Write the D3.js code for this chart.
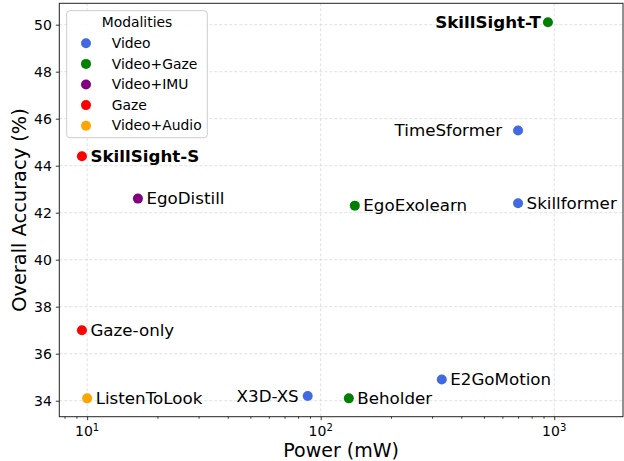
<!DOCTYPE html>
<html>
<head>
<meta charset="utf-8">
<script src="https://cdn.jsdelivr.net/npm/d3@7"></script>
<style>
  body { margin: 0; background: #fff; }
  svg { display: block; font-family: "DejaVu Sans", sans-serif; }
</style>
</head>
<body>
<div id="chart"></div>
<script>
// Data
var models = ["SkillSight-T", "TimeSformer", "SkillSight-S", "EgoDistill", "EgoExolearn",
  "Skillformer", "Gaze-only", "ListenToLook", "X3D-XS", "Beholder", "E2GoMotion"];
var power = [940, 700, 9.5, 16.5, 140, 700, 9.5, 10, 88, 132, 330];
var accuracy = [50.1, 45.5, 44.4, 42.6, 42.3, 42.4, 37.0, 34.1, 34.2, 34.1, 34.9];
var modality = ["Video+Gaze", "Video", "Gaze", "Video+IMU", "Video+Gaze",
  "Video", "Gaze", "Video+Audio", "Video", "Video+Gaze", "Video"];

var modalities = ["Video", "Video+Gaze", "Video+IMU", "Gaze", "Video+Audio"];
var modalityColors = ["#4169e1", "#008000", "#800080", "#ff0000", "#ffa500"];

var yTicks = [34, 36, 38, 40, 42, 44, 46, 48, 50];
var xTicks = [10, 100, 1000];
var xMinorTicks = [8, 9, 20, 30, 40, 50, 60, 70, 80, 90, 200, 300, 400, 500, 600, 700, 800, 900];

// labels drawn on the left of their point, and the bold ones
var leftLabels = {"SkillSight-T": 7, "TimeSformer": 16, "X3D-XS": 9};
var boldLabels = ["SkillSight-T", "SkillSight-S"];

var svgWidth = 624;
var svgHeight = 461;

var margin = {
  top: 3.3,
  right: 1,
  bottom: 44.3,
  left: 59.3
};

var width = svgWidth - margin.left - margin.right;
var height = svgHeight - margin.top - margin.bottom;

var svg = d3.select("#chart")
  .append("svg")
  .attr("width", svgWidth)
  .attr("height", svgHeight);

var chartGroup = svg.append("g")
  .attr("transform", `translate(${margin.left}, ${margin.top})`);

var data = models.map(function(m, i) {
  return {name: m, power: power[i], acc: accuracy[i], mod: modality[i]};
});

var xScale = d3.scaleLog()
  .domain([7.6, 1970])
  .range([0, width]);

var yScale = d3.scaleLinear()
  .domain([33.32, 50.91])
  .range([height, 0]);

var color = d3.scaleOrdinal()
  .domain(modalities)
  .range(modalityColors);

// Grid
chartGroup.append("g")
  .selectAll("line.gy")
  .data(yTicks)
  .enter()
  .append("line")
  .attr("x1", 0)
  .attr("x2", width)
  .attr("y1", d => yScale(d))
  .attr("y2", d => yScale(d))
  .attr("stroke", "#d8d8d8")
  .attr("stroke-width", 0.8)
  .attr("stroke-dasharray", "3,2");

chartGroup.append("g")
  .selectAll("line.gx")
  .data(xTicks)
  .enter()
  .append("line")
  .attr("x1", d => xScale(d))
  .attr("x2", d => xScale(d))
  .attr("y1", 0)
  .attr("y2", height)
  .attr("stroke", "#d8d8d8")
  .attr("stroke-width", 0.8)
  .attr("stroke-dasharray", "3,2");

// Axes
var leftAxis = d3.axisLeft(yScale)
  .tickValues(yTicks)
  .tickSize(3.5)
  .tickPadding(4)
  .tickSizeOuter(0);

var yAxis = chartGroup.append("g").call(leftAxis);
yAxis.selectAll("text")
  .attr("font-size", "14px")
  .attr("font-family", "DejaVu Sans")
  .attr("fill", "#000");

var bottomAxis = d3.axisBottom(xScale)
  .tickValues(xTicks)
  .tickSize(3.5)
  .tickSizeOuter(0)
  .tickFormat("");

var xAxis = chartGroup.append("g")
  .attr("transform", `translate(0, ${height})`)
  .call(bottomAxis);

var minorAxis = d3.axisBottom(xScale)
  .tickValues(xMinorTicks)
  .tickSize(2)
  .tickSizeOuter(0)
  .tickFormat("");

var xMinor = chartGroup.append("g")
  .attr("transform", `translate(0, ${height})`)
  .call(minorAxis);
xMinor.select(".domain").remove();

[yAxis, xAxis, xMinor].forEach(function(a) {
  a.selectAll(".tick line").attr("stroke", "#000").attr("stroke-width", 0.8);
});
yAxis.select(".domain").remove();
xAxis.select(".domain").remove();

// x tick labels as 10^n
var xLabels = chartGroup.append("g")
  .selectAll("text")
  .data(xTicks)
  .enter()
  .append("text")
  .attr("x", d => xScale(d))
  .attr("y", height + 19)
  .attr("text-anchor", "middle")
  .attr("font-size", "14px");
xLabels.append("tspan").text("10");
xLabels.append("tspan")
  .attr("dy", "-0.45em")
  .attr("font-size", "10px")
  .text(d => Math.round(Math.log10(d)));

// Frame
chartGroup.append("rect")
  .attr("width", width)
  .attr("height", height)
  .attr("fill", "none")
  .attr("stroke", "#222")
  .attr("stroke-width", 1);

// Points
chartGroup.selectAll("circle.pt")
  .data(data)
  .enter()
  .append("circle")
  .attr("class", "pt")
  .attr("cx", d => xScale(d.power))
  .attr("cy", d => yScale(d.acc))
  .attr("r", 5)
  .attr("fill", d => color(d.mod));

chartGroup.selectAll("text.lbl")
  .data(data)
  .enter()
  .append("text")
  .attr("class", "lbl")
  .attr("x", function(d) {
    var x = xScale(d.power);
    return leftLabels[d.name] ? x - leftLabels[d.name] : x + 8.5;
  })
  .attr("y", d => yScale(d.acc))
  .attr("dy", "0.34em")
  .attr("text-anchor", d => leftLabels[d.name] ? "end" : "start")
  .attr("font-size", "16.7px")
  .attr("font-weight", d => boldLabels.indexOf(d.name) >= 0 ? "bold" : "normal")
  .text(d => d.name);

// Axis labels
svg.append("text")
  .attr("x", margin.left + width / 2)
  .attr("y", 457)
  .attr("text-anchor", "middle")
  .attr("font-size", "19px")
  .text("Power (mW)");

svg.append("text")
  .attr("transform", `translate(25.5, ${margin.top + height / 2}) rotate(-90)`)
  .attr("text-anchor", "middle")
  .attr("font-size", "19.4px")
  .text("Overall Accuracy (%)");

// Legend
var legend = svg.append("g");
legend.append("rect")
  .attr("x", 66.7)
  .attr("y", 10.7)
  .attr("width", 140.6)
  .attr("height", 127)
  .attr("rx", 3)
  .attr("fill", "#fff")
  .attr("fill-opacity", 0.9)
  .attr("stroke", "#cccccc")
  .attr("stroke-width", 1);

legend.append("text")
  .attr("x", 137)
  .attr("y", 26.7)
  .attr("text-anchor", "middle")
  .attr("font-size", "13.9px")
  .text("Modalities");

var items = legend.selectAll("g.item")
  .data(modalities)
  .enter()
  .append("g")
  .attr("transform", (d, i) => `translate(0, ${43.3 + i * 20.6})`);

items.append("circle")
  .attr("cx", 86)
  .attr("cy", 0)
  .attr("r", 5)
  .attr("fill", d => color(d));

items.append("text")
  .attr("x", 111.7)
  .attr("y", 0)
  .attr("dy", "0.34em")
  .attr("font-size", "13.9px")
  .text(d => d);
</script>
</body>
</html>
